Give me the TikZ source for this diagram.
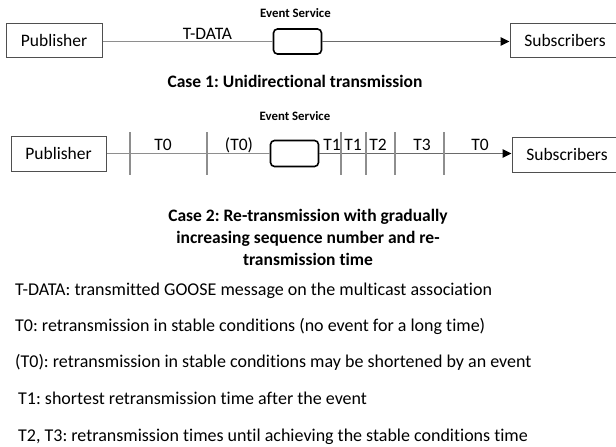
\documentclass[tikz,border=0pt]{standalone}
\usepackage{fontspec}
\setmainfont{Carlito}[Ligatures={NoCommon}]
\frenchspacing
\usetikzlibrary{arrows.meta}
\definecolor{linegray}{HTML}{8E8E8E}
\definecolor{darkline}{HTML}{6A6A6A}
\definecolor{boxgray}{HTML}{4F4F4F}
\begin{document}
\begin{tikzpicture}[x=1pt,y=-1pt,
  txt/.style={font=\fontsize{17.5}{21}\selectfont, inner sep=0pt},
  legend/.style={font=\fontsize{18}{21}\selectfont, inner sep=0pt, anchor=base west},
  bold/.style={font=\bfseries\fontsize{17.5}{21}\selectfont, inner sep=0pt},
  evlabel/.style={font=\bfseries\fontsize{12.8}{15}\selectfont, inner sep=0pt},
  partybox/.style={draw=boxgray, line width=1pt, minimum height=34pt, inner sep=0pt, font=\fontsize{17.5}{21}\selectfont},
  evbox/.style={draw=black, line width=1.6pt, rounded corners=4pt, minimum width=48pt, minimum height=25pt, inner sep=0pt},
  lightline/.style={draw=linegray, line width=1.3pt},
  darkarrow/.style={draw=darkline, line width=1.3pt, -{Triangle[length=9pt,width=8.5pt,fill=black,color=black]}},
  tick/.style={draw=linegray, line width=1.1pt},
]
\useasboundingbox (0,0) rectangle (616,447);
\fill[white] (0,0) rectangle (616,447);

% ---------- Case 1 ----------
\node[partybox, minimum width=96pt] (pub1) at (54,40) {Publisher};
\node[partybox, minimum width=110pt] (sub1) at (565,40) {Subscribers};
\node[evbox] (ev1) at (297.5,41.5) {};
\node[evlabel, anchor=base] (evl1) at (295.5,17) {Event Service};
\draw[lightline] (pub1.east |- ev1.west) -- (ev1.west);
\draw[darkarrow] (ev1.east) -- (sub1.west |- ev1.east);
\node[txt, anchor=base] (tdata) at (207.5,39) {T-DATA};
\node[bold, anchor=base] (cap1) at (295,87) {Case 1: Unidirectional transmission};

% ---------- Case 2 ----------
\node[partybox, minimum width=95pt, minimum height=35pt] (pub2) at (58.5,153.5) {Publisher};
\node[partybox, minimum width=110pt, minimum height=35pt] (sub2) at (567,154.5) {Subscribers};
\node[evbox, minimum height=26pt] (ev2) at (294.5,153.5) {};
\node[evlabel, anchor=base] (evl2) at (295,120) {Event Service};
\draw[lightline] (pub2.east |- ev2.west) -- (ev2.west);
\draw[darkarrow] (ev2.east) -- (sub2.west |- ev2.east);
\foreach \x in {130,207,341,366,395,444} \draw[tick] (\x,132) -- (\x,175);
\node[txt, anchor=base] (l1) at (163,150) {T0};
\node[txt, anchor=base] (l2) at (239,150) {(T0)};
\node[txt, anchor=base] (l3) at (332,150) {T1};
\node[txt, anchor=base] (l4) at (353,150) {T1};
\node[txt, anchor=base] (l5) at (378,150) {T2};
\node[txt, anchor=base] (l6) at (422,150) {T3};
\node[txt, anchor=base] (l7) at (480,150) {T0};

\node[bold, anchor=base] (cap2a) at (308,221.5) {Case 2: Re-transmission with gradually};
\node[bold, anchor=base] (cap2b) at (308,243.5) {increasing sequence number and re-};
\node[bold, anchor=base] (cap2c) at (308,265) {transmission time};

% ---------- Legend ----------
\node[legend] (g1) at (15,295.5) {T-DATA: transmitted GOOSE message on the multicast association};
\node[legend] (g2) at (15,331.5) {T0: retransmission in stable conditions (no event for a long time)};
\node[legend] (g3) at (15,367.5) {(T0): retransmission in stable conditions may be shortened by an event};
\node[legend] (g4) at (18,404.5) {T1: shortest retransmission time after the event};
\node[legend] (g5) at (18,441) {T2, T3: retransmission times until achieving the stable conditions time};
\end{tikzpicture}
\end{document}
